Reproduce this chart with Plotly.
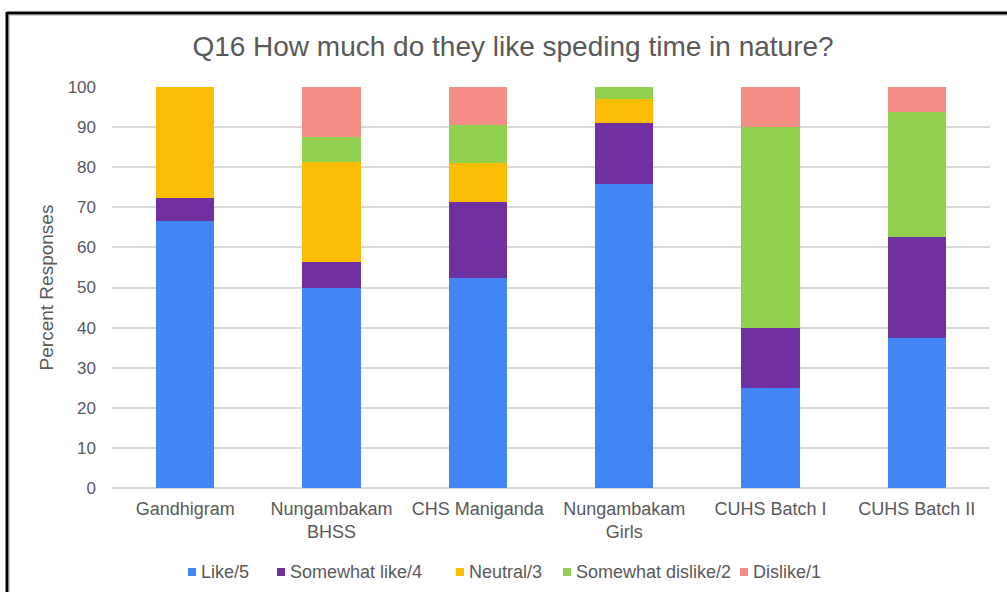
import plotly.graph_objects as go

schools = ["Gandhigram", "Nungambakam<br>BHSS", "CHS Maniganda",
           "Nungambakam<br>Girls", "CUHS Batch I", "CUHS Batch II"]

like_5 = [66.67, 50.0, 52.38, 75.76, 25.0, 37.5]
somewhat_like_4 = [5.56, 6.25, 19.05, 15.15, 15.0, 25.0]
neutral_3 = [27.78, 25.0, 9.52, 6.06, 0.0, 0.0]
somewhat_dislike_2 = [0.0, 6.25, 9.52, 3.03, 50.0, 31.25]
dislike_1 = [0.0, 12.5, 9.52, 0.0, 10.0, 6.25]

series = [
    ("Like/5", like_5, "#4285F4"),
    ("Somewhat like/4", somewhat_like_4, "#7030A0"),
    ("Neutral/3", neutral_3, "#FBBC04"),
    ("Somewhat dislike/2", somewhat_dislike_2, "#92D050"),
    ("Dislike/1", dislike_1, "#F28E86"),
]

W, H = 1007, 592
ML, MR, MT, MB = 112, 17, 87, 104
PW, PH = W - ML - MR, H - MT - MB
GREY = "#595959"
FONT = "Liberation Sans, Arial, sans-serif"

fig = go.Figure()
for name, vals, col in series:
    fig.add_trace(go.Bar(
        x=schools, y=vals, name=name, showlegend=False,
        marker=dict(color=col, line=dict(width=0)),
    ))


def px_x(p):
    return (p - ML) / PW


def px_y(p):
    return (H - MB - p) / PH


# frame lines along the top and left edges
shapes = [
    dict(type="line", xref="paper", yref="paper", x0=px_x(7), x1=px_x(W + 5),
         y0=px_y(13), y1=px_y(13), line=dict(color="black", width=3)),
    dict(type="line", xref="paper", yref="paper", x0=px_x(7), x1=px_x(7),
         y0=px_y(12), y1=px_y(H + 5), line=dict(color="black", width=3)),
    dict(type="line", xref="paper", yref="paper", x0=px_x(9.5), x1=px_x(W + 5),
         y0=px_y(15.5), y1=px_y(15.5), line=dict(color="#D0D0D0", width=1)),
    dict(type="line", xref="paper", yref="paper", x0=px_x(9.5), x1=px_x(9.5),
         y0=px_y(15.5), y1=px_y(H + 5), line=dict(color="#D0D0D0", width=1)),
]

# legend row: small colour square followed by the series name
annotations = []
legend_x = [188, 277, 456, 563, 740]
legend_y = 572
sq = 8
for (name, _, col), lx in zip(series, legend_x):
    shapes.append(dict(type="rect", xref="paper", yref="paper",
                       x0=px_x(lx), x1=px_x(lx + sq),
                       y0=px_y(legend_y + sq / 2), y1=px_y(legend_y - sq / 2),
                       fillcolor=col, line=dict(width=0)))
    annotations.append(dict(text=name, xref="paper", yref="paper",
                            x=px_x(lx + sq + 3), y=px_y(legend_y),
                            xanchor="left", yanchor="middle", showarrow=False,
                            font=dict(size=18, color=GREY, family=FONT)))

fig.update_layout(
    width=W, height=H,
    margin=dict(l=ML, r=MR, t=MT, b=MB),
    paper_bgcolor="white", plot_bgcolor="white",
    barmode="stack", bargap=0.6,
    showlegend=False,
    font=dict(family=FONT, color=GREY, size=18),
    title=dict(text="Q16 How much do they like speding time in nature?",
               x=513 / W, xanchor="center",
               y=1 - 46 / H, yanchor="middle",
               font=dict(size=28, color=GREY)),
    xaxis=dict(showgrid=False, showline=False, ticks="",
               tickfont=dict(size=18, color=GREY),
               ticklabelstandoff=8),
    yaxis=dict(range=[0, 100], dtick=10, showgrid=True, gridcolor="#D9D9D9",
               gridwidth=1.5, zeroline=True, zerolinecolor="#D9D9D9",
               zerolinewidth=1.5, showline=False, ticks="",
               tickfont=dict(size=17, color=GREY),
               ticklabelstandoff=15,
               title=dict(text="Percent Responses", standoff=8,
                          font=dict(size=19, color=GREY))),
    shapes=shapes,
    annotations=annotations,
)

fig.write_html("out.html")
